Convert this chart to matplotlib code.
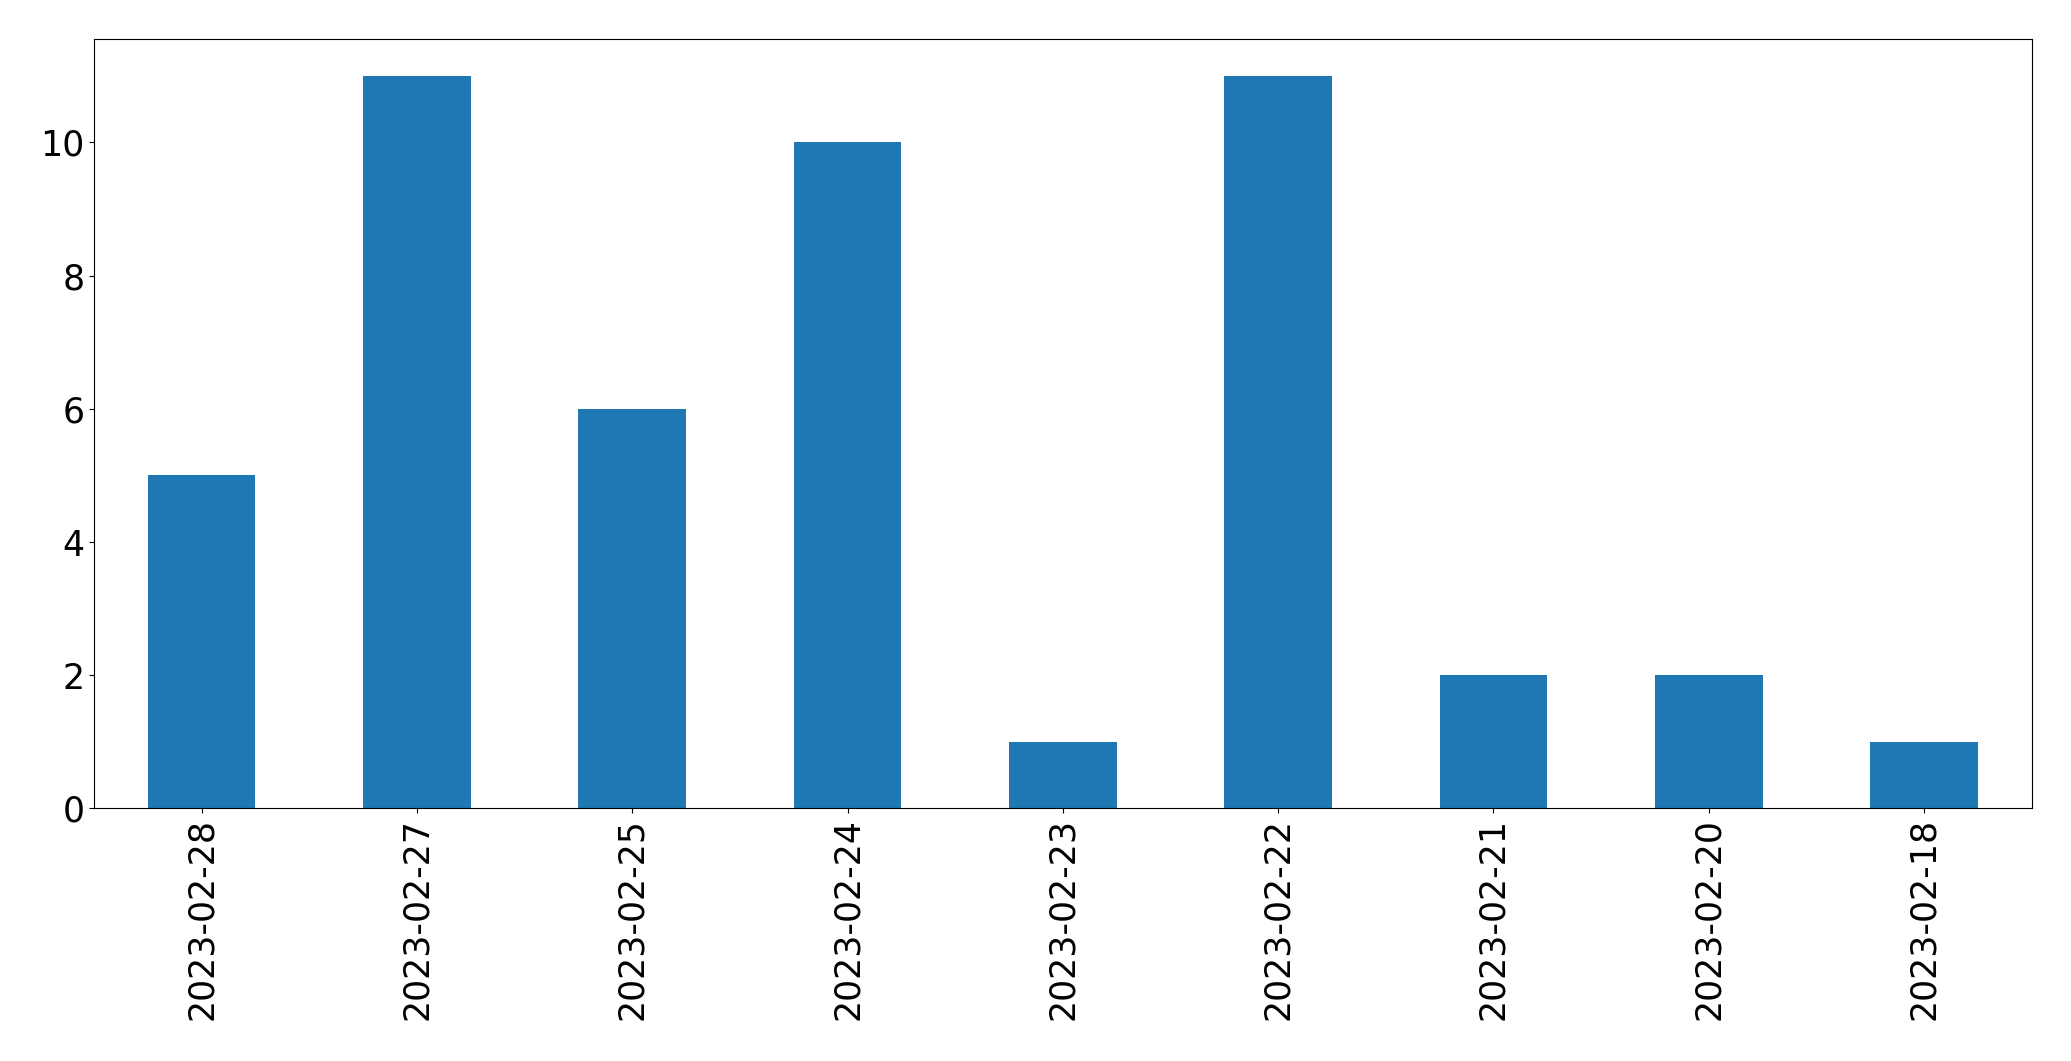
import matplotlib
matplotlib.use("Agg")
import matplotlib.pyplot as plt
import pandas as pd

dates = ['2023-02-28', '2023-02-27', '2023-02-25', '2023-02-24', '2023-02-23',
         '2023-02-22', '2023-02-21', '2023-02-20', '2023-02-18']
counts = [5, 11, 6, 10, 1, 11, 2, 2, 1]

s = pd.Series(counts, index=dates)

fig, ax = plt.subplots(figsize=(20.71, 10.61), dpi=100)
s.plot(kind='bar', ax=ax, color='#1f77b4', fontsize=25)
fig.subplots_adjust(left=0.0454, right=0.981, top=0.963, bottom=0.238)
fig.savefig('out.png', dpi=100)
